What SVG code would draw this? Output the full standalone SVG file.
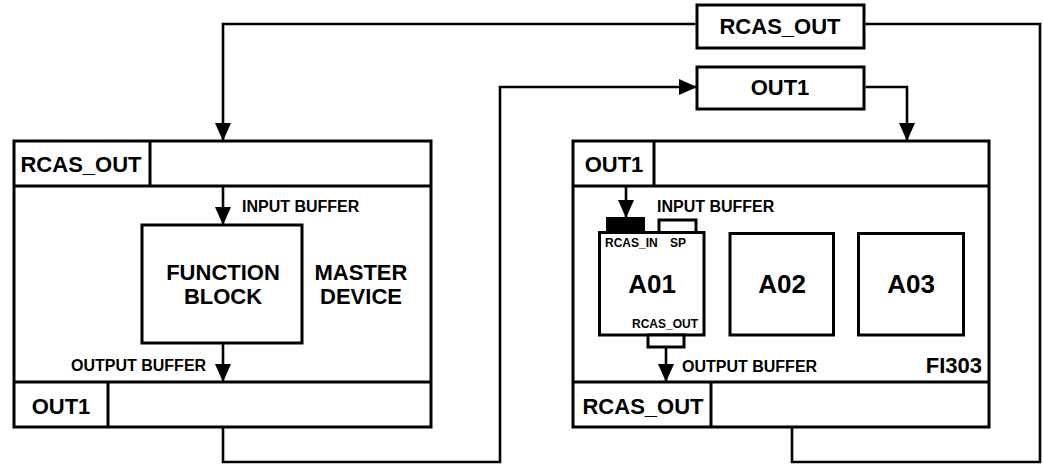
<svg xmlns="http://www.w3.org/2000/svg" width="1043" height="464" viewBox="0 0 1043 464">
<style>
.box{fill:#fff;stroke:#000;stroke-width:3}
.ln{fill:none;stroke:#000;stroke-width:2.6}
text{font-family:"Liberation Sans",Arial,sans-serif;font-weight:bold;fill:#000}
.l{font-size:22px}
.m{font-size:16px}
.s{font-size:12px}
.a{font-size:26px}
.c{text-anchor:middle}
</style>
<defs>
<marker id="ah" markerUnits="userSpaceOnUse" markerWidth="18" markerHeight="16" refX="18" refY="8" orient="auto">
<path d="M0,0 L18,8 L0,16 z" fill="#000"/>
</marker>
</defs>
<rect width="1043" height="464" fill="#fff"/>
<g id="rcas-out-tag">
<rect class="box" x="697" y="5" width="167" height="43"/>
<text class="l c" x="780" y="34">RCAS_OUT</text>
</g>
<g id="out1-tag">
<rect class="box" x="697" y="67" width="167" height="42"/>
<text class="l c" x="780" y="95">OUT1</text>
</g>
<g id="master-device">
<rect class="box" x="14" y="141" width="417" height="286"/>
<line class="box" x1="14" y1="186" x2="431" y2="186"/>
<line class="box" x1="150" y1="141" x2="150" y2="186"/>
<line class="box" x1="14" y1="382" x2="431" y2="382"/>
<line class="box" x1="108" y1="382" x2="108" y2="427"/>
<text class="l c" x="81" y="172">RCAS_OUT</text>
<text class="l c" x="61" y="414">OUT1</text>
<text class="m" x="242" y="212">INPUT BUFFER</text>
<text class="m" x="71" y="371">OUTPUT BUFFER</text>
<text class="l c" x="361" y="280">MASTER</text>
<text class="l c" x="361" y="304">DEVICE</text>
</g>
<g id="function-block">
<rect class="box" x="142" y="225" width="160" height="118"/>
<text class="l c" x="223" y="280">FUNCTION</text>
<text class="l c" x="223" y="304">BLOCK</text>
</g>
<g id="fi303">
<rect class="box" x="573" y="141" width="416" height="286"/>
<line class="box" x1="573" y1="186" x2="989" y2="186"/>
<line class="box" x1="654" y1="141" x2="654" y2="186"/>
<line class="box" x1="573" y1="382" x2="989" y2="382"/>
<line class="box" x1="711" y1="382" x2="711" y2="427"/>
<text class="l c" x="614" y="172">OUT1</text>
<text class="l c" x="643" y="414">RCAS_OUT</text>
<text class="m" x="657" y="212">INPUT BUFFER</text>
<text class="m" x="682" y="372">OUTPUT BUFFER</text>
<text class="l" x="982" y="373" text-anchor="end">FI303</text>
</g>
<g id="a01">
<rect class="box" x="599.5" y="232.5" width="104.5" height="102.5"/>
<rect x="607" y="218" width="37" height="15" fill="#000" stroke="#000" stroke-width="2"/>
<rect class="box" x="659" y="220" width="37" height="12.5" stroke-width="2.5"/>
<rect class="box" x="648" y="335" width="36" height="12" stroke-width="2.5"/>
<text class="s" x="605" y="247">RCAS_IN</text>
<text class="s" x="670" y="247">SP</text>
<text class="a c" x="652" y="293">A01</text>
<text class="s" x="698" y="328" text-anchor="end">RCAS_OUT</text>
</g>
<g id="a02">
<rect class="box" x="730" y="233.5" width="103.5" height="101.5"/>
<text class="a c" x="782" y="293">A02</text>
</g>
<g id="a03">
<rect class="box" x="858.5" y="233.5" width="105" height="101.5"/>
<text class="a c" x="911" y="293">A03</text>
</g>
<g id="connectors">
<path class="ln" d="M792,428 V462 H1040 V24 H865.5"/>
<path class="ln" d="M695.5,24 H223 V141" marker-end="url(#ah)"/>
<path class="ln" d="M223,428 V462 H500 V87 H697" marker-end="url(#ah)"/>
<path class="ln" d="M865.5,87 H907 V141" marker-end="url(#ah)"/>
<path class="ln" d="M223,187 V225" marker-end="url(#ah)"/>
<path class="ln" d="M223,344 V382" marker-end="url(#ah)"/>
<path class="ln" d="M626,187 V218" marker-end="url(#ah)"/>
<path class="ln" d="M666,348 V382" marker-end="url(#ah)"/>
</g>
</svg>
